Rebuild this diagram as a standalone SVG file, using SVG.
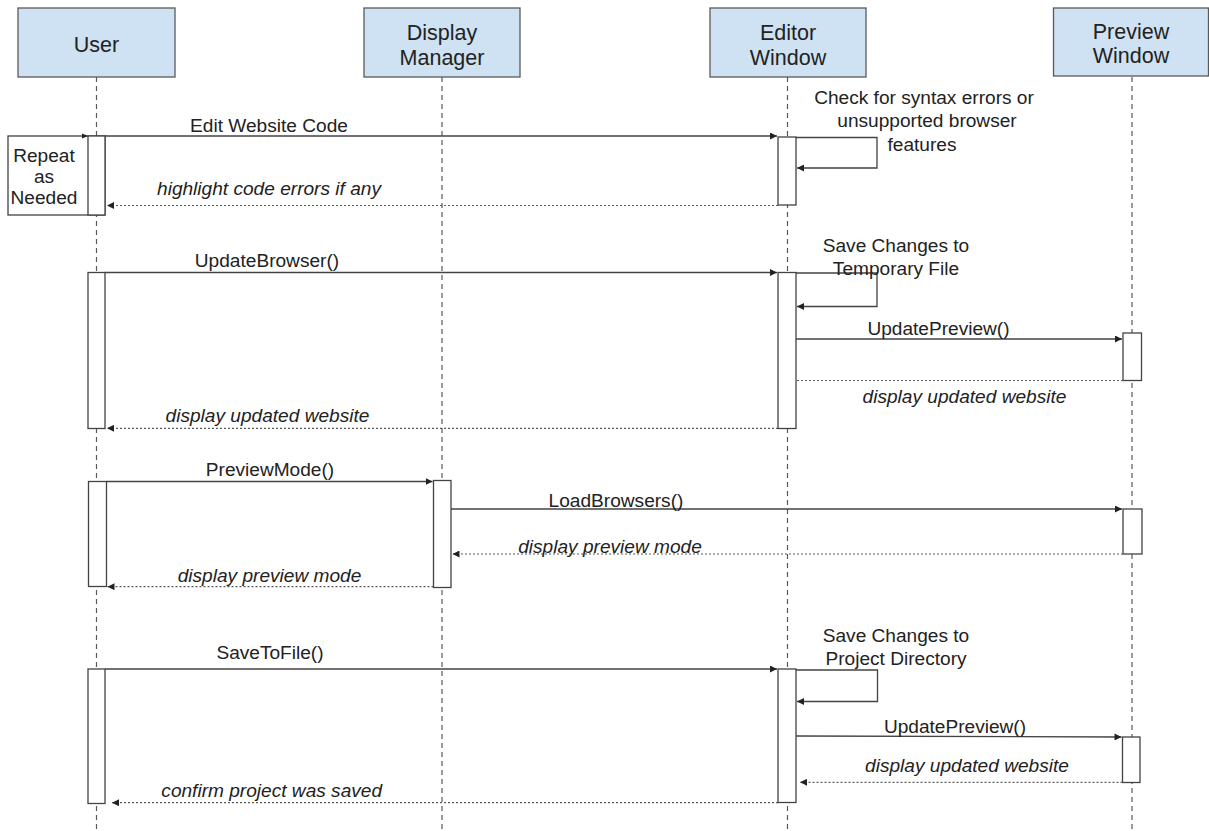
<svg xmlns="http://www.w3.org/2000/svg" width="1209" height="831" viewBox="0 0 1209 831">
<style>
.hdr{fill:#cfe2f3;stroke:#595959;stroke-width:1.3}
.ht{font-family:"Liberation Sans",Arial,sans-serif;font-size:21.5px;fill:#222;text-anchor:middle}
.life{stroke:#595959;stroke-width:1.2;stroke-dasharray:5,4;fill:none}
.act{fill:#fff;stroke:#434343;stroke-width:1.3}
.msg{stroke:#434343;stroke-width:1.3;fill:none}
.ret{stroke:#595959;stroke-width:1.2;stroke-dasharray:2,2;fill:none}
.lbl{font-family:"Liberation Sans",Arial,sans-serif;font-size:19.1px;fill:#222;text-anchor:middle}
.it{font-style:italic}
</style>
<defs>
<marker id="ah" markerUnits="userSpaceOnUse" markerWidth="8" markerHeight="7" refX="7" refY="3.5" orient="auto">
<path d="M0,0 L7,3.5 L0,7 Z" fill="#222"/>
</marker>
</defs>
<rect width="1209" height="831" fill="#fff"/>

<g id="user">
<line class="life" x1="96.5" y1="77" x2="96.5" y2="831"/>
<rect class="hdr" x="18" y="8" width="157" height="69"/>
<text class="ht" x="96.5" y="52">User</text>
</g>
<g id="display-manager">
<line class="life" x1="442" y1="77" x2="442" y2="831"/>
<rect class="hdr" x="364" y="8" width="156" height="69"/>
<text class="ht" x="442" y="40">Display</text>
<text class="ht" x="442" y="65">Manager</text>
</g>
<g id="editor-window">
<line class="life" x1="787.5" y1="77" x2="787.5" y2="831"/>
<rect class="hdr" x="710" y="8" width="156" height="69"/>
<text class="ht" x="788" y="40">Editor</text>
<text class="ht" x="788" y="64.5">Window</text>
</g>
<g id="preview-window">
<line class="life" x1="1132" y1="77" x2="1132" y2="831"/>
<rect class="hdr" x="1053.5" y="8" width="155" height="68"/>
<text class="ht" x="1131" y="38.5">Preview</text>
<text class="ht" x="1131" y="63">Window</text>
</g>

<g id="repeat-note">
<rect class="act" x="8" y="136" width="97" height="79"/>
<text class="lbl" x="44" y="161.5">Repeat</text>
<text class="lbl" x="44" y="183">as</text>
<text class="lbl" x="44" y="204">Needed</text>
<path d="M82,133.5 L88,136 L82,138.5 Z" fill="#222"/>
</g>

<g id="activations">
<rect class="act" x="88" y="136" width="17" height="79"/>
<rect class="act" x="778" y="137" width="18" height="68"/>
<rect class="act" x="88" y="272.5" width="17" height="156"/>
<rect class="act" x="778" y="272.5" width="18" height="156"/>
<rect class="act" x="1123" y="333" width="18.5" height="47.5"/>
<rect class="act" x="88.5" y="481.5" width="18" height="105"/>
<rect class="act" x="433.5" y="480.5" width="17.5" height="107"/>
<rect class="act" x="1123" y="509" width="19" height="45"/>
<rect class="act" x="88" y="669" width="17" height="134.5"/>
<rect class="act" x="778" y="669" width="18" height="133.5"/>
<rect class="act" x="1122.5" y="737" width="17.5" height="45.5"/>
</g>

<g id="connectors">
<line class="msg" x1="105" y1="136" x2="777" y2="136" marker-end="url(#ah)"/>
<polyline class="msg" points="796,137.5 877,137.5 877,168 797,168" marker-end="url(#ah)"/>
<line class="ret" x1="778" y1="205.5" x2="107" y2="205.5" marker-end="url(#ah)"/>
<line class="msg" x1="105" y1="272.5" x2="777" y2="272.5" marker-end="url(#ah)"/>
<polyline class="msg" points="796,273 877,273 877,306.5 797,306.5" marker-end="url(#ah)"/>
<line class="msg" x1="796" y1="339" x2="1122" y2="339" marker-end="url(#ah)"/>
<line class="ret" x1="1123" y1="380.5" x2="797" y2="380.5"/>
<line class="ret" x1="778" y1="428.3" x2="107" y2="428.3" marker-end="url(#ah)"/>
<line class="msg" x1="106.5" y1="481.5" x2="432.5" y2="481.5" marker-end="url(#ah)"/>
<line class="msg" x1="451" y1="509" x2="1122" y2="509" marker-end="url(#ah)"/>
<line class="ret" x1="1123" y1="554" x2="452.5" y2="554" marker-end="url(#ah)"/>
<line class="ret" x1="433.5" y1="586.7" x2="107.5" y2="586.7" marker-end="url(#ah)"/>
<line class="msg" x1="105" y1="669" x2="777" y2="669" marker-end="url(#ah)"/>
<polyline class="msg" points="796,670 877.5,670 877.5,701.5 797,701.5" marker-end="url(#ah)"/>
<line class="msg" x1="796" y1="736" x2="1121.5" y2="737" marker-end="url(#ah)"/>
<line class="ret" x1="1122.5" y1="782.3" x2="800" y2="782.3" marker-end="url(#ah)"/>
<line class="ret" x1="778" y1="802.7" x2="112" y2="802.7" marker-end="url(#ah)"/>
</g>

<g id="labels">
<text class="lbl" x="269" y="131.5">Edit Website Code</text>
<text class="lbl" x="924" y="103.5">Check for syntax errors or</text>
<text class="lbl" x="927" y="126.7">unsupported browser</text>
<text class="lbl" x="922" y="150.5">features</text>
<text class="lbl it" x="269" y="194.5">highlight code errors if any</text>
<text class="lbl" x="267" y="266.5">UpdateBrowser()</text>
<text class="lbl" x="896" y="251.5">Save Changes to</text>
<text class="lbl" x="896" y="275">Temporary File</text>
<text class="lbl" x="938.5" y="335">UpdatePreview()</text>
<text class="lbl it" x="964.5" y="403">display updated website</text>
<text class="lbl it" x="267.5" y="422">display updated website</text>
<text class="lbl" x="270" y="475.7">PreviewMode()</text>
<text class="lbl" x="616" y="506.5">LoadBrowsers()</text>
<text class="lbl it" x="610" y="552.5">display preview mode</text>
<text class="lbl it" x="269.5" y="581.5">display preview mode</text>
<text class="lbl" x="270" y="659.4">SaveToFile()</text>
<text class="lbl" x="896" y="641.7">Save Changes to</text>
<text class="lbl" x="896" y="665">Project Directory</text>
<text class="lbl" x="955" y="733.4">UpdatePreview()</text>
<text class="lbl it" x="967" y="772">display updated website</text>
<text class="lbl it" x="271.7" y="796.5">confirm project was saved</text>
</g>
</svg>
